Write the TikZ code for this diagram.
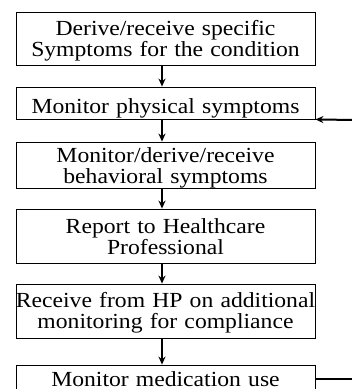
\documentclass[tikz,border=0pt]{standalone}
\usepackage{fontspec}
\setmainfont{Liberation Serif}[FakeStretch=1.1]
\usetikzlibrary{arrows.meta}

\tikzset{
  stepbox/.style={draw, line width=0.8pt, inner sep=0pt, text width=299pt,
    align=center, font=\fontsize{21.5}{21.5}\selectfont},
  flow/.style={line width=2pt, -{Stealth[length=8pt,width=7pt]}},
}

\begin{document}
\begin{tikzpicture}[x=1pt,y=1pt,yscale=-1,xscale=1]
\useasboundingbox (0,0) rectangle (352,389);

%Shape: Rectangle [steps]
\node [stepbox, minimum height=53pt, text height=6.5pt, text depth=13.5pt] (derive) at (165.5,38.5) {Derive/receive specific\\Symptoms for the condition};
\node [stepbox, minimum height=32pt, text height=20pt, text depth=0pt] (physical) at (165.5,103) {Monitor physical symptoms};
\node [stepbox, minimum height=46pt, text height=7pt, text depth=13pt] (behave) at (165.5,165) {Monitor/derive/receive\\behavioral symptoms};
\node [stepbox, minimum height=54pt, text height=7pt, text depth=13pt] (report) at (165.5,236) {Report to Healthcare\\Professional};
\node [stepbox, minimum height=54pt, text height=6pt, text depth=14pt] (receive) at (165.5,311) {\makebox[\linewidth]{Receive from HP on additional}\\monitoring for compliance};
\node [stepbox, minimum height=33pt, text height=14.5pt, text depth=5.5pt] (medication) at (165.5,381.5) {Monitor medication use};

%Straight Lines [flow]
\draw [flow] ([xshift=-3.5pt]derive.south) -- ([xshift=-3.5pt]physical.north);
\draw [flow] ([xshift=-3.5pt]physical.south) -- ([xshift=-3.5pt]behave.north);
\draw [flow] ([xshift=-3.5pt]behave.south) -- ([xshift=-3.5pt]report.north);
\draw [flow] ([xshift=-3.5pt]report.south) -- ([xshift=-3.5pt]receive.north);
\draw [flow] ([xshift=-3.5pt]receive.south) -- ([xshift=-3.5pt]medication.north);

%Straight Lines [feedback]
\coordinate (backin) at (352,120);
\coordinate (backout) at (352,379);
\draw [flow] (backin) -- (physical.south east);
\draw [line width=2pt] (medication.east |- backout) -- (backout);

\end{tikzpicture}
\end{document}
